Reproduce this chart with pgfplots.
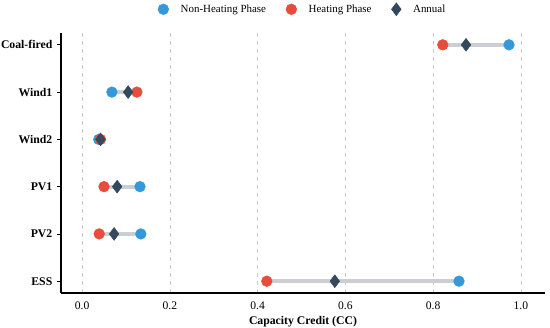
\documentclass[border=0pt]{standalone}
\usepackage{fontspec}
\setmainfont{Liberation Serif}
\usepackage{pgfplots}
\pgfplotsset{compat=1.18}
\definecolor{cblue}{HTML}{3498DB}
\definecolor{cred}{HTML}{E74C3C}
\definecolor{cdark}{HTML}{34495E}
\definecolor{cseg}{HTML}{CBCFD3}
\begin{document}
\begin{tikzpicture}
\begin{axis}[
  at={(0,0)}, anchor=south west,
  scale only axis, width=363pt, height=195pt,
  xmin=-0.048, xmax=1.055, ymin=-0.25, ymax=5.25,
  axis x line*=bottom, axis y line*=left,
  axis line style={black, line width=0.9pt},
  xtick={0,0.2,0.4,0.6,0.8,1.0},
  xticklabel style={/pgf/number format/fixed, /pgf/number format/fixed zerofill, /pgf/number format/precision=1, font=\fontsize{8.7}{10}\selectfont},
  /pgf/number format/assume math mode=true,
  x tick style={draw=none},
  ytick={0,1,2,3,4,5},
  yticklabels={ESS,PV2,PV1,Wind2,Wind1,Coal-fired},
  yticklabel style={font=\fontsize{8.8}{10}\selectfont\bfseries},
  y tick style={black, line width=0.6pt},
  tick align=outside, major tick length=3pt,
  xmajorgrids, grid style={dashed, gray!40, line width=0.4pt},
  xlabel={\textbf{Capacity Credit (CC)}},
  xlabel style={font=\fontsize{8.8}{10}\selectfont, yshift=2pt},
  clip=false,
  legend columns=3,
  legend style={at={(0.5,1)}, anchor=south, yshift=10pt, draw=none, fill=none,
    font=\fontsize{8.2}{9}\selectfont,
    /tikz/every odd column/.append style={column sep=7pt},
    /tikz/every even column/.append style={column sep=13pt}},
  legend cell align=left,
]
\addlegendimage{only marks, mark=*, mark size=4pt, mark options={draw=cblue, fill=cblue}}
\addlegendentry{Non-Heating Phase}
\addlegendimage{only marks, mark=*, mark size=4pt, mark options={draw=cred, fill=cred}}
\addlegendentry{Heating Phase}
\addlegendimage{only marks, mark=diamond*, mark size=4.8pt, mark options={draw=cdark, fill=cdark}}
\addlegendentry{Annual}
% segments
\addplot[cseg, line width=3pt, unbounded coords=jump, forget plot] coordinates {
 (0.822,5) (0.973,5) (nan,nan)
 (0.068,4) (0.125,4) (nan,nan)
 (0.038,3) (0.041,3) (nan,nan)
 (0.050,2) (0.132,2) (nan,nan)
 (0.039,1) (0.134,1) (nan,nan)
 (0.421,0) (0.859,0)
};
% non-heating
\addplot[only marks, mark=*, mark size=4pt, mark options={draw=cblue, fill=cblue}, forget plot] coordinates {
 (0.973,5) (0.068,4) (0.038,3) (0.132,2) (0.134,1) (0.859,0)
};
% heating
\addplot[only marks, mark=*, mark size=4pt, mark options={draw=cred, fill=cred}, forget plot] coordinates {
 (0.822,5) (0.125,4) (0.042,3) (0.050,2) (0.039,1) (0.421,0)
};
% annual
\addplot[only marks, mark=diamond*, mark size=4.8pt, mark options={draw=cdark, fill=cdark}, forget plot] coordinates {
 (0.875,5) (0.105,4) (0.042,3) (0.080,2) (0.073,1) (0.576,0)
};
\end{axis}
\pgfresetboundingbox
\path[use as bounding box] (-45.75pt,-26.25pt) rectangle (366.75pt,219.75pt);
\end{tikzpicture}
\end{document}
